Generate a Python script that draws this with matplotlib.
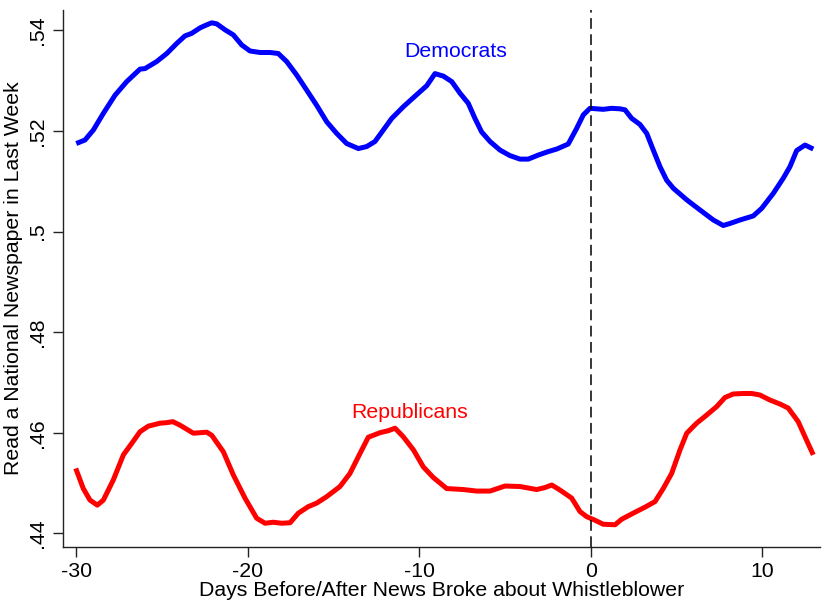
import matplotlib
matplotlib.use("Agg")
import matplotlib.pyplot as plt
from matplotlib.ticker import FuncFormatter

plt.rcParams["font.family"] = ["Liberation Sans", "DejaVu Sans"]
plt.rcParams["font.size"] = 15.3
plt.rcParams["axes.unicode_minus"] = False

# Democrats: (day, share)
dem_days = [-30.0, -29.49, -29.0, -28.42, -27.74, -27.06, -26.28, -25.99, -25.31,
            -24.72, -24.14, -23.66, -23.27, -22.78, -22.39, -22.1, -21.81, -21.32,
            -20.84, -20.35, -19.87, -19.28, -18.7, -18.22, -17.73, -17.14, -16.56,
            -15.98, -15.39, -14.81, -14.23, -13.55, -13.06, -12.58, -12.09, -11.6,
            -10.93, -10.15, -9.56, -9.08, -8.59, -8.1, -7.62, -7.14, -6.75, -6.36,
            -5.87, -5.29, -4.71, -4.12, -3.64, -3.06, -2.47, -1.98, -1.31, -0.82,
            -0.43, -0.04, 0.73, 1.22, 1.71, 2.0, 2.39, 2.87, 3.27, 3.65, 4.04, 4.43,
            4.82, 5.6, 6.37, 7.15, 7.73, 8.12, 8.71, 9.48, 9.97, 10.65, 11.23,
            11.62, 12.01, 12.5, 12.98]
dem_vals = [.5175, .5182, .5202, .5235, .5271, .5298, .5323, .5324, .5338,
            .5354, .5374, .5389, .5394, .5405, .5411, .5415, .5413, .5401,
            .5391, .5371, .5359, .5356, .5356, .5354, .5338, .5311, .5281,
            .5251, .5218, .5195, .5175, .5165, .5169, .5179, .5202, .5225,
            .5248, .5272, .5290, .5314, .5309, .5298, .5275, .5255, .5225, .5198,
            .5179, .5162, .5151, .5144, .5144, .5152, .5159, .5164, .5174, .5205,
            .5232, .5245, .5243, .5245, .5244, .5242, .5225, .5213, .5195, .5162,
            .5129, .5102, .5086, .5063, .5043, .5023, .5012, .5016, .5023, .5031,
            .5046, .5076, .5106, .5129, .5161, .5172, .5164]

# Republicans
rep_days = [-30.03, -29.59, -29.2, -28.77, -28.42, -27.84, -27.25, -26.76, -26.28,
            -25.8, -25.11, -24.72, -24.37, -23.95, -23.17, -22.39, -22.1, -21.42,
            -20.84, -20.16, -19.48, -18.99, -18.51, -18.02, -17.53, -17.05, -16.47,
            -15.98, -15.39, -14.62, -14.04, -13.45, -12.97, -12.29, -11.8, -11.41,
            -10.93, -10.34, -9.76, -9.18, -8.4, -7.43, -6.65, -5.87, -5.0, -4.12,
            -3.15, -2.66, -2.27, -1.79, -1.11, -0.62, -0.23, 0.25, 0.73, 1.42,
            1.81, 2.48, 3.17, 3.75, 4.23, 4.72, 5.21, 5.6, 6.18, 6.76, 7.35, 7.83,
            8.31, 8.9, 9.39, 9.87, 10.45, 11.04, 11.52, 12.1, 12.59, 12.98]
rep_vals = [.4529, .4489, .4466, .4456, .4466, .4506, .4556, .4579, .4602,
            .4613, .4619, .4620, .4622, .4615, .4599, .4601, .4595, .4562,
            .4516, .4470, .4430, .4420, .4422, .4420, .4421, .4440, .4453,
            .4460, .4473, .4493, .4519, .4559, .4591, .4600, .4604, .4609,
            .4592, .4566, .4532, .4511, .4489, .4487, .4484, .4484, .4494, .4493,
            .4487, .4491, .4496, .4486, .4470, .4443, .4433, .4426, .4418, .4417,
            .4428, .4440, .4452, .4463, .4489, .4519, .4566, .4599, .4619, .4635,
            .4652, .4670, .4677, .4678, .4678, .4675, .4665, .4657, .4649, .4622,
            .4585, .4556]

x_ticks = [-30, -20, -10, 0, 10]
y_ticks = [.44, .46, .48, .50, .52, .54]

fig = plt.figure(figsize=(8.24, 6.05), dpi=100)
ax = fig.add_axes([0.0761, 0.0964, 0.919, 0.887])

line_kw = dict(linewidth=3.6, solid_capstyle="butt", solid_joinstyle="round")
ax.plot(dem_days, dem_vals, color="#0000ff", **line_kw)
ax.plot(rep_days, rep_vals, color="#ff0000", **line_kw)
ax.axvline(0, color="black", linewidth=1.1, dashes=(7, 3.6))

ax.text(-7.9, .5358, "Democrats", color="#0000ff", ha="center", va="center")
ax.text(-10.55, .4641, "Republicans", color="#ff0000", ha="center", va="center")

ax.set_xlim(-30.79, 13.37)
ax.set_ylim(.43734, .54404)
ax.set_xticks(x_ticks)
ax.set_yticks(y_ticks)


def dot_formatter(y, pos):
    s = f"{y:.2f}".lstrip("0")
    return s.rstrip("0") if s.endswith("0") else s


ax.yaxis.set_major_formatter(FuncFormatter(dot_formatter))
for lab in ax.get_yticklabels():
    lab.set_rotation(90)
    lab.set_va("center")

ax.tick_params(direction="out", length=7, width=1, color="#222222", pad=4)
ax.spines["top"].set_visible(False)
ax.spines["right"].set_visible(False)
for s in ("left", "bottom"):
    ax.spines[s].set_color("#222222")
    ax.spines[s].set_linewidth(1)

ax.set_xlabel("Days Before/After News Broke about Whistleblower", labelpad=0)
ax.set_ylabel("Read a National Newspaper in Last Week", labelpad=4)

fig.savefig("out.png", dpi=100)
